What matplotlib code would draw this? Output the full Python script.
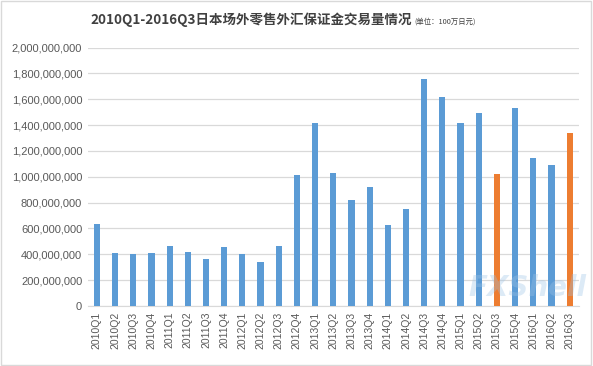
import numpy as np
import matplotlib.pyplot as plt
from matplotlib.ticker import FuncFormatter
from matplotlib.patches import Rectangle

plt.rcParams['font.family'] = ['Noto Sans CJK SC', 'DejaVu Sans']

quarters = ['2010Q1', '2010Q2', '2010Q3', '2010Q4', '2011Q1', '2011Q2', '2011Q3', '2011Q4',
            '2012Q1', '2012Q2', '2012Q3', '2012Q4', '2013Q1', '2013Q2', '2013Q3', '2013Q4',
            '2014Q1', '2014Q2', '2014Q3', '2014Q4', '2015Q1', '2015Q2', '2015Q3', '2015Q4',
            '2016Q1', '2016Q2', '2016Q3']
volume = [636, 411, 403, 411, 465, 419, 365, 458,
          403, 341, 465, 1016, 1420, 1032, 822, 923,
          628, 753, 1753, 1614, 1420, 1490, 1024, 1536,
          1148, 1094, 1342]  # 单位：百万
highlight = ['2015Q3', '2016Q3']

values = np.array(volume) * 1e6
colors = ['#ED7D31' if q in highlight else '#5B9BD5' for q in quarters]

fig = plt.figure(figsize=(5.93, 3.66), dpi=100)
ax = fig.add_axes([0.148, 0.164, 0.828, 0.706])

x = np.arange(len(quarters))
ax.bar(x, values, width=0.34, color=colors, zorder=3)

ax.set_xlim(-0.5, len(quarters) - 0.5)
ax.set_ylim(0, 2e9)
ax.set_yticks(np.arange(0, 2.01e9, 2e8))
ax.yaxis.set_major_formatter(FuncFormatter(lambda v, p: f'{int(v):,}'))
ax.grid(axis='y', color='#D9D9D9', linewidth=0.9, zorder=0)
ax.set_xticks(x)
ax.set_xticklabels(quarters, rotation=90, fontsize=7.5, color='#595959',
                   family=['Liberation Sans', 'DejaVu Sans'])
for lbl in ax.get_yticklabels():
    lbl.set_fontsize(8)
    lbl.set_color('#595959')
    lbl.set_family(['Liberation Sans', 'DejaVu Sans'])
ax.tick_params(axis='both', length=0, pad=4)
for s in ['top', 'right', 'left']:
    ax.spines[s].set_visible(False)
ax.spines['bottom'].set_color('#D9D9D9')

# 标题
fig.text(0.152, 0.945, '2010Q1-2016Q3日本场外零售外汇保证金交易量情况', fontsize=9.7,
         fontweight='bold', color='#404040', va='center', ha='left')
fig.text(0.698, 0.94, '(单位：100万日元)', fontsize=5.3, color='#404040', va='center', ha='left')

# 水印
fig.text(0.79, 0.19, 'FXShell', fontsize=20, fontstyle='italic', fontweight='bold',
         color='#9CC3E6', alpha=0.35, family=['DejaVu Sans'])

fig.patches.append(Rectangle((0.002, 0.003), 0.994, 0.993, transform=fig.transFigure,
                             fill=False, edgecolor='#D9D9D9', linewidth=1))

fig.savefig('out.png', dpi=100)
